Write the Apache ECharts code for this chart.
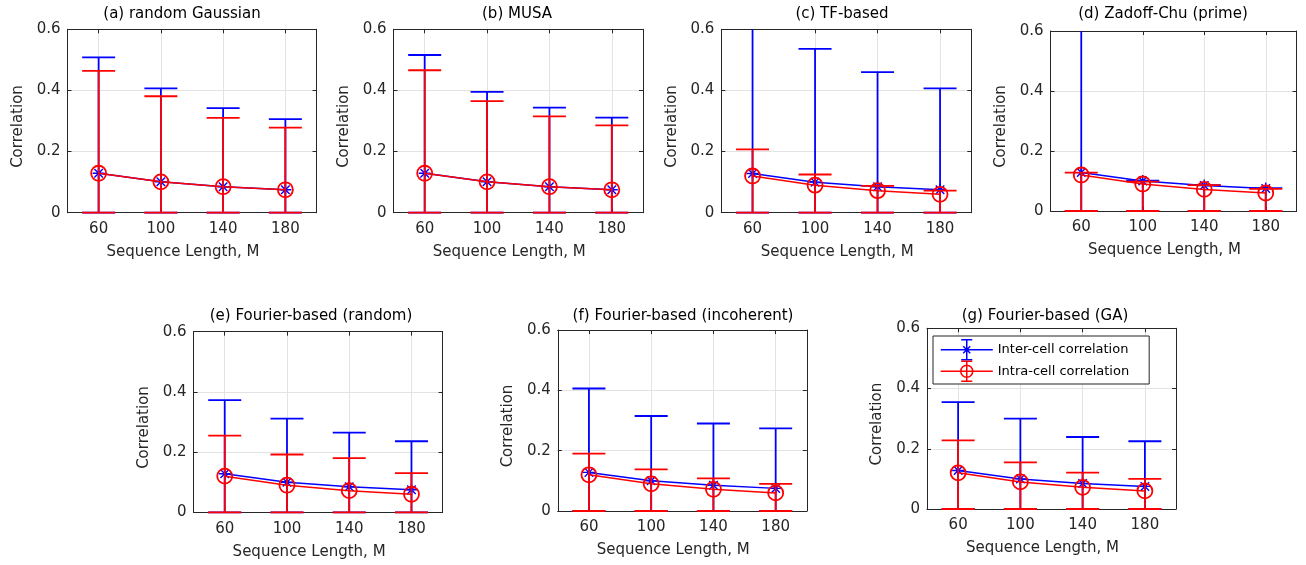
<!DOCTYPE html>
<html>
<head>
<meta charset="utf-8">
<script src="https://cdn.jsdelivr.net/npm/echarts@6/dist/echarts.min.js"></script>
<style>html,body{margin:0;padding:0;background:#fff}#chart{width:1306px;height:565px}</style>
</head>
<body>
<div id="chart"></div>
<script>
// ---------------- data ----------------
const seqLengths = [60, 100, 140, 180];
const yTickValues = [0, 0.2, 0.4, 0.6];
const panelTitles = [
  '(a) random Gaussian', '(b) MUSA', '(c) TF-based', '(d) Zadoff-Chu (prime)',
  '(e) Fourier-based (random)', '(f) Fourier-based (incoherent)', '(g) Fourier-based (GA)'
];
const seriesNames = ['Inter-cell correlation', 'Intra-cell correlation'];

// mean values (markers), one row per panel a..g
const interMean = [
  [0.129, 0.101, 0.085, 0.075],
  [0.129, 0.101, 0.085, 0.075],
  [0.128, 0.100, 0.085, 0.075],
  [0.128, 0.100, 0.085, 0.075],
  [0.128, 0.100, 0.085, 0.075],
  [0.128, 0.100, 0.085, 0.075],
  [0.128, 0.100, 0.085, 0.075]
];
const intraMean = [
  [0.129, 0.101, 0.085, 0.075],
  [0.129, 0.101, 0.085, 0.075],
  [0.120, 0.090, 0.072, 0.060],
  [0.120, 0.090, 0.072, 0.060],
  [0.120, 0.090, 0.072, 0.060],
  [0.120, 0.090, 0.072, 0.060],
  [0.120, 0.090, 0.072, 0.060]
];
// error bar upper ends
const interUpper = [
  [0.508, 0.407, 0.342, 0.306],
  [0.516, 0.395, 0.344, 0.311],
  [0.700, 0.536, 0.460, 0.407],
  [0.700, 0.101, 0.086, 0.076],
  [0.373, 0.311, 0.265, 0.236],
  [0.406, 0.315, 0.290, 0.274],
  [0.355, 0.300, 0.239, 0.225]
];
const intraUpper = [
  [0.464, 0.381, 0.310, 0.278],
  [0.466, 0.365, 0.315, 0.286],
  [0.207, 0.125, 0.088, 0.072],
  [0.128, 0.098, 0.086, 0.074],
  [0.255, 0.192, 0.180, 0.130],
  [0.190, 0.138, 0.108, 0.090],
  [0.228, 0.155, 0.121, 0.100]
];
// error bar lower ends
const interLower = [0, 0, 0, 0];
const intraLower = [0, 0, 0, 0];

// ---------------- layout & style ----------------
const X_MIN = 40, X_MAX = 200, Y_MIN = 0, Y_MAX = 0.6, Y_STEP = 0.2;
const panelRects = [   // left, top, width, height
  [67.5, 29.3, 249, 183.4],
  [393.5, 29.3, 249.5, 183.4],
  [721.3, 29.3, 250, 183.4],
  [1050.5, 31, 246, 180],
  [193.6, 331.7, 249, 180.6],
  [557.8, 330, 249, 181],
  [927, 328.3, 249, 180.7]
];
const titleCenters = [[182, 16], [517, 16], [842, 16], [1163, 16], [311, 317.5], [683, 317.5], [1045, 317.5]];
const FONT = 'DejaVu Sans';
const TXT = '#262626';
const BLUE = '#0000ff', RED = '#ff0000';
const GRID_COLOR = '#e3e3e3';

const asteriskPath = 'path://M0,-1L0,1M-1,0L1,0M-0.71,-0.71L0.71,0.71M-0.71,0.71L0.71,-0.71';
const interIcon = 'path://M0,10L52,10M26,0L26,20M20.5,0L31.5,0M20.5,20L31.5,20M22.5,6.5L29.5,13.5M22.5,13.5L29.5,6.5';
const intraIcon = 'path://M0,10L52,10M26,0L26,20M20.5,0L31.5,0M20.5,20L31.5,20M32,10A6,6,0,1,1,20,10A6,6,0,1,1,32,10';

function errRenderer(color) {
  return function (params, api) {
    const x = api.value(0), lo = api.value(1), hi = api.value(2);
    const hiC = Math.min(hi, Y_MAX);
    const pLo = api.coord([x, lo]);
    const pHi = api.coord([x, hiC]);
    const half = 16.5;
    const st = { stroke: color, lineWidth: 1.8 };
    const children = [
      { type: 'line', shape: { x1: pLo[0], y1: pLo[1], x2: pHi[0], y2: pHi[1] }, style: st },
      { type: 'line', shape: { x1: pLo[0] - half, y1: pLo[1], x2: pLo[0] + half, y2: pLo[1] }, style: st }
    ];
    if (hi <= Y_MAX) {
      children.push({ type: 'line', shape: { x1: pHi[0] - half, y1: pHi[1], x2: pHi[0] + half, y2: pHi[1] }, style: st });
    }
    return { type: 'group', children: children };
  };
}

const grids = [], xAxes = [], yAxes = [], series = [], titles = [];
panelRects.forEach(function (r, i) {
  grids.push({ left: r[0], top: r[1], width: r[2], height: r[3], outerBoundsMode: 'none', containLabel: false });
  const axBase = { gridIndex: i, axisLine: { show: true, onZero: false, lineStyle: { color: TXT, width: 1 } } };
  xAxes.push(Object.assign({}, axBase, {
    type: 'value', position: 'bottom', min: X_MIN, max: X_MAX,
    axisTick: { show: true, inside: true, length: 4, customValues: seqLengths, lineStyle: { color: TXT } },
    axisLabel: { show: true, customValues: seqLengths, margin: 9, fontSize: 15, fontFamily: FONT, color: TXT },
    splitLine: { show: true, lineStyle: { color: GRID_COLOR, width: 1 } },
    name: 'Sequence Length, M', nameLocation: 'middle', nameGap: 32,
    nameTextStyle: { fontSize: 15, fontFamily: FONT, color: TXT, padding: [0, 18, 0, 0] }
  }));
  xAxes.push(Object.assign({}, axBase, {
    type: 'value', position: 'top', min: X_MIN, max: X_MAX,
    axisTick: { show: true, inside: true, length: 4, customValues: seqLengths, lineStyle: { color: TXT } },
    axisLabel: { show: false }, splitLine: { show: false }
  }));
  yAxes.push(Object.assign({}, axBase, {
    type: 'value', position: 'left', min: Y_MIN, max: Y_MAX, interval: Y_STEP,
    axisTick: { show: true, inside: true, length: 4, lineStyle: { color: TXT } },
    axisLabel: { show: true, margin: 7, fontSize: 15, fontFamily: FONT, color: TXT },
    splitLine: { show: true, lineStyle: { color: GRID_COLOR, width: 1 } },
    name: 'Correlation', nameLocation: 'middle', nameGap: 42, nameRotate: 90,
    nameTextStyle: { fontSize: 15, fontFamily: FONT, color: TXT, padding: [0, 11, 0, 0] }
  }));
  yAxes.push(Object.assign({}, axBase, {
    type: 'value', position: 'right', min: Y_MIN, max: Y_MAX, interval: Y_STEP,
    axisTick: { show: true, inside: true, length: 4, lineStyle: { color: TXT } },
    axisLabel: { show: false }, splitLine: { show: false }
  }));
  titles.push({
    text: panelTitles[i], left: titleCenters[i][0], top: titleCenters[i][1] - 9, textAlign: 'center', padding: 0,
    textStyle: { fontSize: 15, fontWeight: 'normal', fontFamily: FONT, color: '#000' }
  });

  const xi = 2 * i, yi = 2 * i;
  series.push({
    type: 'custom', name: seriesNames[0], xAxisIndex: xi, yAxisIndex: yi, z: 2, silent: true,
    renderItem: errRenderer(BLUE),
    data: seqLengths.map(function (x, j) { return [x, interLower[j], interUpper[i][j]]; })
  });
  series.push({
    type: 'line', name: seriesNames[0], xAxisIndex: xi, yAxisIndex: yi, z: 3, silent: true,
    symbol: asteriskPath, symbolSize: 12,
    itemStyle: { color: BLUE, borderColor: BLUE, borderWidth: 1.4 },
    lineStyle: { color: BLUE, width: 1.5 },
    data: seqLengths.map(function (x, j) { return [x, interMean[i][j]]; })
  });
  series.push({
    type: 'custom', name: seriesNames[1], xAxisIndex: xi, yAxisIndex: yi, z: 4, silent: true,
    renderItem: errRenderer(RED),
    data: seqLengths.map(function (x, j) { return [x, intraLower[j], intraUpper[i][j]]; })
  });
  series.push({
    type: 'line', name: seriesNames[1], xAxisIndex: xi, yAxisIndex: yi, z: 5, silent: true,
    symbol: 'circle', symbolSize: 15,
    itemStyle: { color: 'rgba(0,0,0,0)', borderColor: RED, borderWidth: 1.8 },
    lineStyle: { color: RED, width: 1.5 },
    data: seqLengths.map(function (x, j) { return [x, intraMean[i][j]]; })
  });
});

const chart = echarts.init(document.getElementById('chart'), null, { renderer: 'canvas' });
chart.setOption({
  animation: false,
  backgroundColor: '#fff',
  title: titles,
  grid: grids,
  xAxis: xAxes,
  yAxis: yAxes,
  legend: {
    orient: 'vertical', left: 933, top: 336, padding: [3, 20, 2, 7], itemGap: 0,
    itemWidth: 52, itemHeight: 20, symbolKeepAspect: true,
    backgroundColor: '#fff', borderColor: TXT, borderWidth: 1, borderRadius: 0,
    textStyle: { fontSize: 13, fontFamily: FONT, color: '#000' },
    data: [
      { name: seriesNames[0], icon: interIcon, itemStyle: { color: 'rgba(0,0,0,0)', borderColor: BLUE, borderWidth: 1.5 } },
      { name: seriesNames[1], icon: intraIcon, itemStyle: { color: 'rgba(0,0,0,0)', borderColor: RED, borderWidth: 1.5 } }
    ]
  },
  series: series
});
</script>
</body>
</html>
